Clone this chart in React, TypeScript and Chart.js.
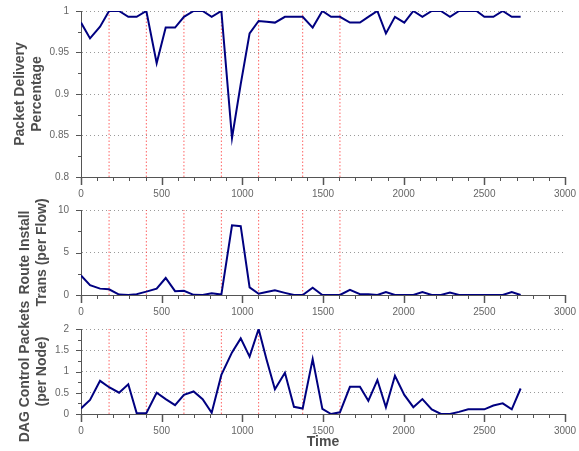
import { useEffect, useRef } from 'react';
import { Chart, registerables } from 'chart.js';

Chart.register(...registerables);

// ---- data ----
const times = [
  0, 56, 118, 174, 236, 293, 345, 405, 469, 525, 583, 638, 698, 754, 810, 870,
  936, 990, 1045, 1101, 1150, 1202, 1264, 1320, 1374, 1436, 1496, 1550, 1605,
  1667, 1729, 1781, 1837, 1890, 1946, 2004, 2060, 2116, 2174, 2231, 2287, 2343,
  2400, 2452, 2500, 2556, 2614, 2670, 2725,
];

const deliveryPct = [
  0.986, 0.967, 0.981, 1.0, 1.0, 0.993, 0.993, 1.0, 0.937, 0.98, 0.98, 0.993,
  1.0, 1.0, 0.993, 1.0, 0.847, 0.912, 0.973, 0.988, 0.987, 0.986, 0.993, 0.993,
  0.993, 0.98, 1.0, 0.993, 0.993, 0.986, 0.986, 0.993, 1.0, 0.973, 0.993, 0.986,
  1.0, 0.993, 1.0, 1.0, 0.993, 1.0, 1.0, 1.0, 0.993, 0.993, 1.0, 0.993, 0.993,
];

const routeInstall = [
  2.3, 1.15, 0.75, 0.67, 0.05, 0, 0.1, 0.4, 0.75, 2.0, 0.45, 0.5, 0.02, 0, 0.2,
  0.05, 8.2, 8.1, 0.9, 0.15, 0.35, 0.55, 0.25, 0, 0, 0.85, 0, 0, 0, 0.6, 0.1,
  0.1, 0, 0.35, 0, 0, 0, 0.35, 0, 0, 0.3, 0, 0, 0, 0, 0, 0, 0.35, 0,
];

const dagControl = [
  0.13, 0.33, 0.78, 0.63, 0.5, 0.7, 0.02, 0.02, 0.5, 0.35, 0.21, 0.45, 0.53,
  0.35, 0.03, 0.92, 1.45, 1.78, 1.35, 2.0, 1.28, 0.58, 0.97, 0.17, 0.13, 1.29,
  0.12, 0.0, 0.04, 0.64, 0.64, 0.31, 0.8, 0.16, 0.9, 0.45, 0.16, 0.35, 0.11, 0,
  0, 0.05, 0.11, 0.11, 0.11, 0.2, 0.25, 0.11, 0.6,
];

const eventTimes = [174, 405, 638, 870, 1101, 1374, 1605];

const xMin = 0;
const xMax = 3000;

// ---- plugin: minor / major tick marks ----
const tickMarks = {
  id: 'tickMarks',
  afterDraw(chart: any, _args: any, opts: any) {
    const { ctx } = chart;
    const xs = chart.scales.x;
    const ys = chart.scales.y;
    ctx.save();
    ctx.strokeStyle = '#555';
    const nx = Math.round((xs.max - xs.min) / opts.xMinor);
    const xr = Math.round(opts.xMajor / opts.xMinor);
    for (let i = 0; i <= nx; i++) {
      const v = xs.min + i * opts.xMinor;
      const px = Math.round(xs.getPixelForValue(v)) + 0.5;
      const major = i % xr === 0;
      ctx.lineWidth = major ? 1.5 : 1;
      ctx.beginPath();
      ctx.moveTo(px, xs.top);
      ctx.lineTo(px, xs.top + (major ? 8 : 4));
      ctx.stroke();
    }
    const ny = Math.round((ys.max - ys.min) / opts.yMinor);
    const yr = Math.round(opts.yMajor / opts.yMinor);
    for (let i = 0; i <= ny; i++) {
      const v = ys.min + i * opts.yMinor;
      const py = Math.round(ys.getPixelForValue(v)) + 0.5;
      const major = i % yr === 0;
      ctx.lineWidth = 1;
      ctx.beginPath();
      ctx.moveTo(ys.right, py);
      ctx.lineTo(ys.right - (major ? 5 : 3), py);
      ctx.stroke();
    }
    ctx.restore();
  },
};

const FONT = "'Liberation Sans', Arial, sans-serif";

function fmt(v: number) {
  return String(parseFloat(Number(v).toFixed(3)));
}

type PanelProps = {
  top: number;
  height: number;
  padTop: number;
  plotH: number;
  yMin: number;
  yMax: number;
  yStep: number;
  yMinor: number;
  yTitle: string[];
  titlePad: number;
  values: number[];
  xTitle?: string;
};

function Panel(p: PanelProps) {
  const ref = useRef<HTMLCanvasElement | null>(null);
  useEffect(() => {
    if (!ref.current) return;
    const xH = p.height - p.padTop - p.plotH;
    const lineData = times.map((t, i) => ({ x: t, y: p.values[i] }));
    const eventSets = eventTimes.map((t) => ({
      data: [
        { x: t, y: p.yMin },
        { x: t, y: p.yMax },
      ],
      borderColor: 'rgba(255,60,60,0.8)',
      borderWidth: 1,
      borderDash: [1.5, 2],
      pointRadius: 0,
      order: 2,
    }));
    const chart = new Chart(ref.current, {
      type: 'line',
      data: {
        datasets: [
          {
            data: lineData,
            borderColor: '#000080',
            borderWidth: 2,
            pointRadius: 0,
            tension: 0,
            order: 0,
          },
          ...eventSets,
        ],
      },
      plugins: [tickMarks],
      options: {
        responsive: false,
        animation: false,
        events: [],
        layout: { padding: { left: 0, right: 14, top: p.padTop, bottom: 0 } },
        plugins: {
          legend: { display: false },
          tooltip: { enabled: false },
          tickMarks: { xMinor: 100, xMajor: 500, yMinor: p.yMinor, yMajor: p.yStep },
        } as any,
        scales: {
          x: {
            type: 'linear',
            min: xMin,
            max: xMax,
            grid: { display: false, drawTicks: false },
            border: { display: true, color: '#555', width: 1 },
            ticks: {
              stepSize: 500,
              padding: 11,
              maxRotation: 0,
              autoSkip: false,
              color: '#666',
              font: { family: FONT, size: 10 },
              callback: (v: any) => fmt(v),
            },
            title: p.xTitle
              ? {
                  display: true,
                  text: p.xTitle,
                  color: '#4d4d4d',
                  font: { family: FONT, size: 14, weight: 'bold' },
                  padding: { top: 0, bottom: 0 },
                }
              : { display: false },
            afterFit: (s: any) => {
              s.height = xH;
              s.paddingLeft = 0;
              s.paddingRight = 0;
              s.paddingTop = 0;
              s.paddingBottom = 0;
            },
          },
          y: {
            type: 'linear',
            min: p.yMin,
            max: p.yMax,
            grid: {
              drawTicks: false,
              color: (c: any) =>
                c.tick && Math.abs(c.tick.value - p.yMin) < 1e-9 ? 'rgba(0,0,0,0)' : '#9a9a9a',
              lineWidth: 1,
            },
            border: { display: true, color: '#555', width: 1, dash: [1, 3] },
            ticks: {
              stepSize: p.yStep,
              padding: 12,
              color: '#666',
              font: { family: FONT, size: 10 },
              callback: (v: any) => fmt(v),
            },
            title: {
              display: true,
              text: p.yTitle,
              color: '#4d4d4d',
              font: { family: FONT, size: 14, weight: 'bold', lineHeight: 1.2 },
              padding: { top: p.titlePad, bottom: 0 },
            },
            afterFit: (s: any) => {
              s.width = 81;
              s.paddingLeft = 0;
              s.paddingRight = 0;
              s.paddingTop = 0;
              s.paddingBottom = 0;
            },
          },
        },
      } as any,
    });
    return () => chart.destroy();
  }, []);
  return (
    <canvas
      ref={ref}
      width={579}
      height={p.height}
      style={{ position: 'absolute', left: 0, top: p.top, width: 579, height: p.height }}
    />
  );
}

export default function App() {
  return (
    <div style={{ position: 'absolute', left: 0, top: 0, width: 579, height: 451 }}>
      <Panel
        top={0}
        height={206}
        padTop={11}
        plotH={166}
        yMin={0.8}
        yMax={1}
        yStep={0.05}
        yMinor={0.025}
        yTitle={['Packet Delivery', 'Percentage']}
        titlePad={12}
        values={deliveryPct}
      />
      <Panel
        top={190}
        height={133}
        padTop={20}
        plotH={85}
        yMin={0}
        yMax={10}
        yStep={5}
        yMinor={2.5}
        yTitle={['Route Install', 'Trans (per Flow)']}
        titlePad={17}
        values={routeInstall}
      />
      <Panel
        top={285}
        height={166}
        padTop={44}
        plotH={85}
        yMin={0}
        yMax={2}
        yStep={0.5}
        yMinor={0.25}
        yTitle={['DAG Control Packets', '(per Node)']}
        titlePad={17}
        values={dagControl}
        xTitle="Time"
      />
    </div>
  );
}
